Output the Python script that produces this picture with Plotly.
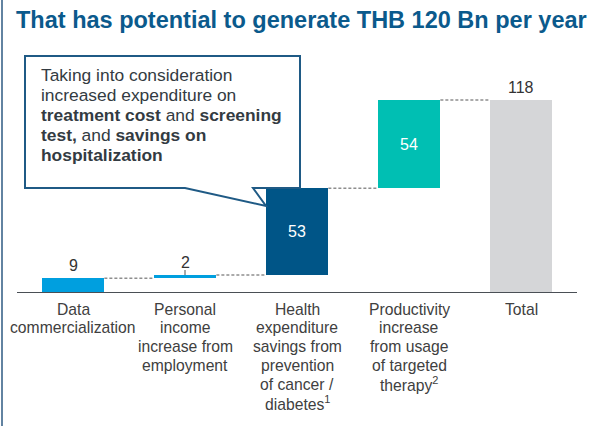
import plotly.graph_objects as go

# ---- data ----
categories = [
    "Data<br>commercialization",
    "Personal<br>income<br>increase from<br>employment",
    "Health<br>expenditure<br>savings from<br>prevention<br>of cancer /<br>diabetes<sup>1</sup>",
    "Productivity<br>increase<br>from usage<br>of targeted<br>therapy<sup>2</sup>",
    "Total",
]
values = [9, 2, 53, 54, 118]
is_total = [False, False, False, False, True]
value_labels = ["9", "2", "53", "54", "118"]
label_inside = [False, False, True, True, False]
colors = ["#009FDF", "#009FDF", "#005587", "#00BFB3", "#D5D6D8"]

title_text = "That has potential to generate THB 120 Bn per year"
callout_lines = [
    "Taking into consideration",
    "increased expenditure on",
    "<b>treatment cost</b> and <b>screening</b>",
    "<b>test,</b> and <b>savings on</b>",
    "<b>hospitalization</b>",
]

# ---- layout geometry (pixels) ----
W, H = 613, 426
ML, MR, MT, MB = 17, 36, 62, 133
PW, PH = W - ML - MR, H - MT - MB
BAR_W = 0.56
Y_MAX = 141.2
FONT = "Liberation Sans, Arial"

def px_x(px):
    return (px - ML) / PW

def px_y(py):
    return (H - MB - py) / PH

# cumulative bases
bases = []
running = 0
for v, t in zip(values, is_total):
    if t:
        bases.append(0)
    else:
        bases.append(running)
        running += v

xs = list(range(len(categories)))

fig = go.Figure()
fig.add_trace(go.Bar(
    x=xs, y=values, base=bases, width=BAR_W,
    marker=dict(color=colors, line=dict(width=0)),
    hoverinfo="skip", showlegend=False,
))

shapes = []
annotations = []

# connectors
for i in range(len(values) - 1):
    level = bases[i] + values[i]
    shapes.append(dict(type="line", xref="x", yref="y",
                       x0=i + BAR_W / 2, x1=i + 1 - BAR_W / 2, y0=level, y1=level,
                       line=dict(color="#8E8E8E", width=1.5, dash="3px,2px"), layer="below"))

# value labels
for i, (lab, inside) in enumerate(zip(value_labels, label_inside)):
    top = bases[i] + values[i]
    if inside:
        annotations.append(dict(x=i, y=bases[i] + values[i] / 2, xref="x", yref="y",
                                text=lab, showarrow=False,
                                font=dict(size=16, color="white", family=FONT)))
    else:
        annotations.append(dict(x=i, y=top, xref="x", yref="y", yanchor="bottom",
                                yshift=2, text=lab, showarrow=False,
                                font=dict(size=16, color="#333333", family=FONT)))

# category labels (one annotation per line for tight line spacing)
for i, cat in enumerate(categories):
    for k, line in enumerate(cat.split("<br>")):
        annotations.append(dict(x=i, y=0, xref="x", yref="y", yanchor="middle",
                                yshift=-(16 + k * 18.8), text=line, showarrow=False,
                                font=dict(size=15.7, color="#404040", family=FONT)))

# small leader tick for the "2" label
shapes.append(dict(type="line", xref="x", yref="y", x0=1, x1=1,
                   ysizemode="pixel", yanchor=bases[1] + values[1], y0=0, y1=5,
                   line=dict(color="#555555", width=1)))

# callout box with tail
bx0, bx1, by0, by1 = 25, 300, 56, 188
path = (f"M {px_x(bx0)},{px_y(by0)} L {px_x(bx1)},{px_y(by0)} L {px_x(bx1)},{px_y(by1)} "
        f"L {px_x(253)},{px_y(by1)} L {px_x(266)},{px_y(206)} L {px_x(185)},{px_y(by1)} "
        f"L {px_x(bx0)},{px_y(by1)} Z")
shapes.append(dict(type="path", xref="paper", yref="paper", path=path,
                   fillcolor="white", line=dict(color="#1F5A85", width=2), layer="above"))

for k, line in enumerate(callout_lines):
    annotations.append(dict(x=px_x(39), y=px_y(75 + 20 * k), xref="paper", yref="paper",
                            xanchor="left", yanchor="middle", align="left",
                            text=line, showarrow=False,
                            font=dict(size=17.4, color="#333B42", family=FONT)))

# left frame line
shapes.append(dict(type="line", xref="paper", yref="paper",
                   x0=px_x(2), x1=px_x(2), y0=px_y(0), y1=px_y(H),
                   line=dict(color="#2E5A82", width=1.5)))

fig.update_layout(
    width=W, height=H,
    margin=dict(l=ML, r=MR, t=MT, b=MB, pad=0),
    paper_bgcolor="white", plot_bgcolor="white",
    title=dict(text=f"<b>{title_text}</b>", xref="container", yref="container",
               x=16 / W, xanchor="left", y=1 - 20 / H, yanchor="middle",
               font=dict(size=23.5, color="#0B5A8C", family=FONT)),
    xaxis=dict(range=[-0.5, len(categories) - 0.5], showticklabels=False,
               showgrid=False, zeroline=False, showline=False, ticks="", fixedrange=True),
    yaxis=dict(range=[0, Y_MAX], visible=False, showgrid=False, zeroline=False, fixedrange=True),
    shapes=shapes + [dict(type="line", xref="paper", yref="y", x0=0, x1=1, y0=0, y1=0,
                          line=dict(color="#4A4F55", width=2))],
    annotations=annotations,
    bargap=0,
)

fig.write_html("out.html", config={"displayModeBar": False},
               post_script="document.body.style.margin='0';")
